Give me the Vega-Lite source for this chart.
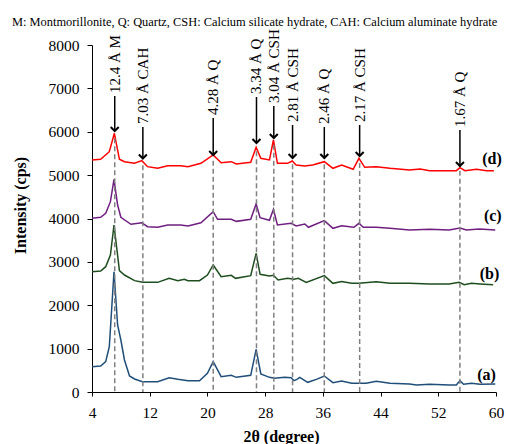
{
  "$schema": "https://vega.github.io/schema/vega-lite/v6.json",
  "autosize": {"type": "none"},
  "padding": {"left": 92, "top": 45, "right": 10, "bottom": 52},
  "width": 404,
  "height": 347,
  "background": "white",
  "title": {
    "text": "M: Montmorillonite, Q: Quartz, CSH: Calcium silicate hydrate, CAH: Calcium aluminate hydrate",
    "anchor": "start",
    "frame": "group",
    "dx": -80,
    "dy": 29,
    "offset": 20,
    "baseline": "alphabetic",
    "font": "Liberation Serif",
    "fontSize": 12.4,
    "fontWeight": "normal",
    "color": "black"
  },
  "config": {
    "view": {"stroke": null},
    "axis": {
      "grid": false,
      "domainColor": "black",
      "tickColor": "black",
      "labelColor": "black",
      "titleColor": "black",
      "labelFont": "Liberation Serif",
      "titleFont": "Liberation Serif",
      "labelFontSize": 15.5,
      "titleFontSize": 16,
      "titleFontWeight": "bold"
    }
  },
  "datasets": {
    "series": [
      {"s": "d", "x": 4.0, "y": 5349}, {"s": "d", "x": 5.2, "y": 5365}, {"s": "d", "x": 6.4, "y": 5540}, {"s": "d", "x": 7.1, "y": 5964}, {"s": "d", "x": 7.8, "y": 5365}, {"s": "d", "x": 8.5, "y": 5310}, {"s": "d", "x": 9.9, "y": 5272}, {"s": "d", "x": 10.9, "y": 5334}, {"s": "d", "x": 11.7, "y": 5195}, {"s": "d", "x": 13.1, "y": 5157}, {"s": "d", "x": 14.5, "y": 5218}, {"s": "d", "x": 16.3, "y": 5218}, {"s": "d", "x": 17.3, "y": 5195}, {"s": "d", "x": 19.1, "y": 5272}, {"s": "d", "x": 20.8, "y": 5464}, {"s": "d", "x": 21.9, "y": 5287}, {"s": "d", "x": 23.3, "y": 5310}, {"s": "d", "x": 24.0, "y": 5257}, {"s": "d", "x": 26.0, "y": 5295}, {"s": "d", "x": 26.75, "y": 5641}, {"s": "d", "x": 27.4, "y": 5388}, {"s": "d", "x": 28.6, "y": 5349}, {"s": "d", "x": 29.15, "y": 5810}, {"s": "d", "x": 29.7, "y": 5272}, {"s": "d", "x": 31.1, "y": 5272}, {"s": "d", "x": 31.75, "y": 5326}, {"s": "d", "x": 32.3, "y": 5234}, {"s": "d", "x": 33.5, "y": 5211}, {"s": "d", "x": 34.6, "y": 5234}, {"s": "d", "x": 36.2, "y": 5310}, {"s": "d", "x": 37.4, "y": 5157}, {"s": "d", "x": 38.6, "y": 5234}, {"s": "d", "x": 40.2, "y": 5134}, {"s": "d", "x": 41.0, "y": 5388}, {"s": "d", "x": 41.8, "y": 5180}, {"s": "d", "x": 43.4, "y": 5195}, {"s": "d", "x": 45.3, "y": 5157}, {"s": "d", "x": 48.0, "y": 5118}, {"s": "d", "x": 49.5, "y": 5140}, {"s": "d", "x": 50.8, "y": 5103}, {"s": "d", "x": 53.1, "y": 5103}, {"s": "d", "x": 54.5, "y": 5103}, {"s": "d", "x": 55.0, "y": 5172}, {"s": "d", "x": 55.7, "y": 5103}, {"s": "d", "x": 57.3, "y": 5134}, {"s": "d", "x": 58.7, "y": 5103}, {"s": "d", "x": 59.7, "y": 5103},
      {"s": "c", "x": 4.0, "y": 4005}, {"s": "c", "x": 5.2, "y": 4028}, {"s": "c", "x": 5.9, "y": 4120}, {"s": "c", "x": 6.55, "y": 4388}, {"s": "c", "x": 7.05, "y": 4904}, {"s": "c", "x": 7.55, "y": 4311}, {"s": "c", "x": 8.0, "y": 4028}, {"s": "c", "x": 9.4, "y": 3866}, {"s": "c", "x": 10.9, "y": 3903}, {"s": "c", "x": 11.7, "y": 3811}, {"s": "c", "x": 13.1, "y": 3797}, {"s": "c", "x": 14.5, "y": 3850}, {"s": "c", "x": 16.3, "y": 3850}, {"s": "c", "x": 17.3, "y": 3830}, {"s": "c", "x": 19.1, "y": 3903}, {"s": "c", "x": 20.8, "y": 4157}, {"s": "c", "x": 21.4, "y": 3981}, {"s": "c", "x": 23.3, "y": 3981}, {"s": "c", "x": 24.0, "y": 3934}, {"s": "c", "x": 26.0, "y": 3981}, {"s": "c", "x": 26.75, "y": 4334}, {"s": "c", "x": 27.3, "y": 4018}, {"s": "c", "x": 28.6, "y": 3958}, {"s": "c", "x": 29.15, "y": 4212}, {"s": "c", "x": 29.7, "y": 3850}, {"s": "c", "x": 31.6, "y": 3889}, {"s": "c", "x": 32.3, "y": 3827}, {"s": "c", "x": 33.5, "y": 3873}, {"s": "c", "x": 34.0, "y": 3797}, {"s": "c", "x": 36.2, "y": 3950}, {"s": "c", "x": 37.4, "y": 3774}, {"s": "c", "x": 38.6, "y": 3834}, {"s": "c", "x": 40.3, "y": 3797}, {"s": "c", "x": 41.0, "y": 3889}, {"s": "c", "x": 41.6, "y": 3797}, {"s": "c", "x": 43.4, "y": 3797}, {"s": "c", "x": 45.3, "y": 3774}, {"s": "c", "x": 48.0, "y": 3735}, {"s": "c", "x": 50.8, "y": 3750}, {"s": "c", "x": 53.5, "y": 3735}, {"s": "c", "x": 55.0, "y": 3781}, {"s": "c", "x": 55.9, "y": 3735}, {"s": "c", "x": 57.7, "y": 3758}, {"s": "c", "x": 59.9, "y": 3735},
      {"s": "b", "x": 4.0, "y": 2774}, {"s": "b", "x": 5.2, "y": 2790}, {"s": "b", "x": 5.9, "y": 2889}, {"s": "b", "x": 6.55, "y": 3158}, {"s": "b", "x": 7.05, "y": 3850}, {"s": "b", "x": 7.8, "y": 2797}, {"s": "b", "x": 8.5, "y": 2697}, {"s": "b", "x": 9.9, "y": 2567}, {"s": "b", "x": 11.0, "y": 2528}, {"s": "b", "x": 13.1, "y": 2528}, {"s": "b", "x": 14.7, "y": 2621}, {"s": "b", "x": 15.9, "y": 2567}, {"s": "b", "x": 16.8, "y": 2600}, {"s": "b", "x": 17.3, "y": 2567}, {"s": "b", "x": 18.9, "y": 2567}, {"s": "b", "x": 20.0, "y": 2697}, {"s": "b", "x": 20.8, "y": 2928}, {"s": "b", "x": 21.9, "y": 2658}, {"s": "b", "x": 23.3, "y": 2690}, {"s": "b", "x": 23.9, "y": 2620}, {"s": "b", "x": 26.0, "y": 2682}, {"s": "b", "x": 26.75, "y": 3197}, {"s": "b", "x": 27.3, "y": 2713}, {"s": "b", "x": 28.6, "y": 2674}, {"s": "b", "x": 29.15, "y": 2690}, {"s": "b", "x": 29.8, "y": 2582}, {"s": "b", "x": 31.1, "y": 2620}, {"s": "b", "x": 32.0, "y": 2600}, {"s": "b", "x": 32.6, "y": 2620}, {"s": "b", "x": 33.7, "y": 2528}, {"s": "b", "x": 36.2, "y": 2682}, {"s": "b", "x": 37.4, "y": 2505}, {"s": "b", "x": 38.6, "y": 2550}, {"s": "b", "x": 40.0, "y": 2505}, {"s": "b", "x": 41.0, "y": 2505}, {"s": "b", "x": 43.4, "y": 2543}, {"s": "b", "x": 45.3, "y": 2505}, {"s": "b", "x": 48.0, "y": 2505}, {"s": "b", "x": 50.8, "y": 2490}, {"s": "b", "x": 53.5, "y": 2490}, {"s": "b", "x": 54.9, "y": 2530}, {"s": "b", "x": 55.6, "y": 2474}, {"s": "b", "x": 56.6, "y": 2505}, {"s": "b", "x": 57.8, "y": 2490}, {"s": "b", "x": 59.6, "y": 2474},
      {"s": "a", "x": 4.0, "y": 584}, {"s": "a", "x": 5.2, "y": 600}, {"s": "a", "x": 5.9, "y": 699}, {"s": "a", "x": 6.4, "y": 1044}, {"s": "a", "x": 7.05, "y": 2774}, {"s": "a", "x": 7.55, "y": 1545}, {"s": "a", "x": 8.0, "y": 1199}, {"s": "a", "x": 8.5, "y": 738}, {"s": "a", "x": 9.2, "y": 369}, {"s": "a", "x": 9.9, "y": 300}, {"s": "a", "x": 11.0, "y": 238}, {"s": "a", "x": 13.1, "y": 238}, {"s": "a", "x": 14.7, "y": 330}, {"s": "a", "x": 15.9, "y": 292}, {"s": "a", "x": 17.3, "y": 261}, {"s": "a", "x": 18.9, "y": 261}, {"s": "a", "x": 20.0, "y": 430}, {"s": "a", "x": 20.8, "y": 699}, {"s": "a", "x": 21.9, "y": 353}, {"s": "a", "x": 23.3, "y": 384}, {"s": "a", "x": 24.0, "y": 338}, {"s": "a", "x": 26.0, "y": 384}, {"s": "a", "x": 26.75, "y": 984}, {"s": "a", "x": 27.4, "y": 415}, {"s": "a", "x": 28.6, "y": 338}, {"s": "a", "x": 29.3, "y": 315}, {"s": "a", "x": 30.7, "y": 338}, {"s": "a", "x": 31.6, "y": 330}, {"s": "a", "x": 32.0, "y": 261}, {"s": "a", "x": 32.4, "y": 292}, {"s": "a", "x": 32.8, "y": 338}, {"s": "a", "x": 33.9, "y": 223}, {"s": "a", "x": 35.1, "y": 292}, {"s": "a", "x": 36.2, "y": 369}, {"s": "a", "x": 37.4, "y": 215}, {"s": "a", "x": 38.6, "y": 253}, {"s": "a", "x": 40.0, "y": 200}, {"s": "a", "x": 42.0, "y": 200}, {"s": "a", "x": 43.4, "y": 246}, {"s": "a", "x": 45.3, "y": 200}, {"s": "a", "x": 48.0, "y": 184}, {"s": "a", "x": 49.0, "y": 161}, {"s": "a", "x": 50.8, "y": 177}, {"s": "a", "x": 53.5, "y": 161}, {"s": "a", "x": 54.5, "y": 161}, {"s": "a", "x": 55.0, "y": 261}, {"s": "a", "x": 55.5, "y": 177}, {"s": "a", "x": 56.6, "y": 200}, {"s": "a", "x": 57.8, "y": 177}, {"s": "a", "x": 59.9, "y": 184}
    ],
    "peaks": [
      {"label": "12.4 Å M", "x": 7.15, "tip": 6017, "top": 6824, "dash": 5850},
      {"label": "7.03 Å CAH", "x": 11.05, "tip": 5383, "top": 6110, "dash": 5230},
      {"label": "4.28 Å Q", "x": 20.8, "tip": 5464, "top": 6317, "dash": 5330},
      {"label": "3.34 Å Q", "x": 26.8, "tip": 5741, "top": 6801, "dash": 5550},
      {"label": "3.04 Å CSH", "x": 29.2, "tip": 5856, "top": 6594, "dash": 5700},
      {"label": "2.81 Å CSH", "x": 31.8, "tip": 5395, "top": 6156, "dash": 5250},
      {"label": "2.46 Å Q", "x": 36.2, "tip": 5395, "top": 6110, "dash": 5250},
      {"label": "2.17 Å CSH", "x": 41.1, "tip": 5441, "top": 6156, "dash": 5280},
      {"label": "1.67 Å Q", "x": 55.0, "tip": 5210, "top": 6040, "dash": 5100}
    ],
    "tags": [
      {"t": "(d)", "x": 59.45, "y": 5372},
      {"t": "(c)", "x": 59.55, "y": 4058},
      {"t": "(b)", "x": 59.1, "y": 2709},
      {"t": "(a)", "x": 58.7, "y": 403}
    ]
  },
  "layer": [
    {
      "data": {"name": "series"},
      "mark": {"type": "line", "strokeWidth": 1.5},
      "encoding": {
        "x": {
          "field": "x", "type": "quantitative",
          "scale": {"domain": [4, 60], "nice": false, "zero": false},
          "axis": {
            "title": "2θ (degree)",
            "values": [4,5,6,7,8,9,10,11,12,13,14,15,16,17,18,19,20,21,22,23,24,25,26,27,28,29,30,31,32,33,34,35,36,37,38,39,40,41,42,43,44,45,46,47,48,49,50,51,52,53,54,55,56,57,58,59,60],
            "labelExpr": "(datum.value - 4) % 8 == 0 ? datum.label : ''",
            "tickSize": 4,
            "labelPadding": 9,
            "labelFlush": false,
            "labelOverlap": false,
            "titleX": 189,
            "titleY": 49,
            "titleBaseline": "alphabetic"
          }
        },
        "y": {"field": "y", "type": "quantitative",
          "scale": {"domain": [0, 8000], "nice": false},
          "axis": {
            "title": "Intensity (cps)",
            "values": [0,1000,2000,3000,4000,5000,6000,7000,8000],
            "format": "d",
            "tickSize": 5,
            "labelPadding": 8,
            "labelFlush": false,
            "titleX": -72,
            "titleY": 160,
            "titleBaseline": "middle",
            "titleAlign": "center"
          }
        },
        "color": {"field": "s", "type": "nominal", "legend": null,
          "scale": {"domain": ["a", "b", "c", "d"], "range": ["#1F4E79", "#1E4D1E", "#6F1F7F", "#FF0000"]}}
      }
    },
    {
      "data": {"name": "peaks"},
      "mark": {"type": "rule", "color": "#808080", "strokeWidth": 1.5, "strokeDash": [5, 3]},
      "encoding": {
        "x": {"field": "x", "type": "quantitative"},
        "y": {"field": "dash", "type": "quantitative"},
        "y2": {"datum": 0}
      }
    },
    {
      "data": {"name": "peaks"},
      "mark": {"type": "rule", "color": "black", "strokeWidth": 1.5},
      "encoding": {
        "x": {"field": "x", "type": "quantitative"},
        "y": {"field": "tip", "type": "quantitative"},
        "y2": {"field": "top"}
      }
    },
    {
      "data": {"name": "peaks"},
      "mark": {"type": "point", "shape": "M-1,-1L0,0L1,-1", "filled": false, "color": "black", "strokeWidth": 2, "size": 64, "opacity": 1},
      "encoding": {
        "x": {"field": "x", "type": "quantitative"},
        "y": {"field": "tip", "type": "quantitative"}
      }
    },
    {
      "data": {"name": "peaks"},
      "mark": {"type": "text", "angle": 270, "align": "left", "baseline": "middle", "dx": 3, "font": "Liberation Serif", "fontSize": 15, "color": "black"},
      "encoding": {
        "x": {"field": "x", "type": "quantitative"},
        "y": {"field": "top", "type": "quantitative"},
        "text": {"field": "label"}
      }
    },
    {
      "data": {"name": "tags"},
      "mark": {"type": "text", "align": "center", "baseline": "middle", "font": "Liberation Serif", "fontSize": 16, "fontWeight": "bold", "color": "black"},
      "encoding": {
        "x": {"field": "x", "type": "quantitative"},
        "y": {"field": "y", "type": "quantitative"},
        "text": {"field": "t"}
      }
    }
  ]
}
